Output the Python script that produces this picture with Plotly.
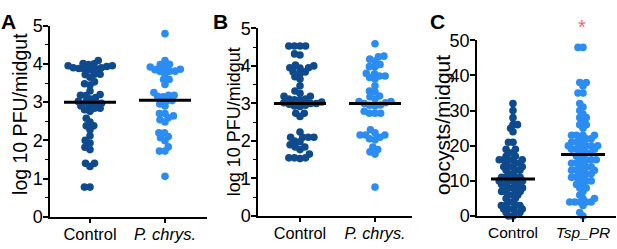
import math
import plotly.graph_objects as go

# ---------------- data ----------------
a_control = [3.95, 3.93, 3.90, 3.88, 3.86, 3.85, 4.09, 4.01, 3.86, 3.90, 3.95, 3.98, 4.00,
             3.73, 3.65, 3.73, 3.72, 3.48, 3.45, 3.53,
             3.20, 3.17, 3.08, 3.12, 3.18, 3.29,
             2.97, 2.90, 2.84, 2.76, 2.80, 2.84, 2.90, 2.97, 3.00, 3.02,
             2.58, 2.48, 2.38, 2.28, 2.38, 2.12, 1.93, 2.00, 1.76, 1.82,
             1.40, 1.32, 1.40, 0.78, 0.78]
a_pchrys = [4.79, 4.09, 3.98, 3.91, 3.86, 3.81, 3.80, 3.81, 3.85, 3.92, 3.99,
            3.59, 3.46, 3.59, 3.73, 3.15, 3.18, 3.18, 3.25, 3.14,
            3.03, 2.90, 2.95, 3.04, 2.70, 2.64, 2.54, 2.48, 2.59, 2.70,
            2.20, 2.10, 1.99, 2.07, 2.20, 1.72, 1.72, 1.83, 1.06]
b_control = [4.53, 4.53, 4.53, 4.53, 4.29, 4.32, 3.84, 3.94, 4.00, 3.95, 3.95, 3.84, 4.02,
             3.79, 3.65, 3.71, 3.47, 3.33, 3.19, 3.27, 3.19, 3.12, 3.10, 3.10, 3.12,
             3.00, 2.98, 3.02, 3.00, 2.95, 2.92, 3.04, 2.93, 2.74, 2.65, 2.74,
             2.24, 2.10, 2.10, 2.10, 2.10, 2.00, 1.90, 1.84, 1.77, 1.84, 1.98,
             1.65, 1.55, 1.53, 1.55, 1.55]
b_pchrys = [4.59, 4.24, 4.13, 4.26, 4.04, 4.18, 3.79, 3.73, 3.98, 3.98, 3.65, 3.69, 3.73, 3.80,
            3.47, 3.20, 3.33, 3.31, 3.12, 3.18, 3.00, 3.02, 3.05, 3.05, 2.96, 2.93, 2.95,
            2.79, 2.74, 2.74, 2.74, 2.30, 2.22, 2.16, 2.10, 2.03, 2.06, 2.16, 2.16,
            1.84, 1.71, 1.65, 1.77, 0.77]
c_control = [0, 0, 1, 1, 1, 2, 2, 2, 2, 3, 3, 3, 3, 4, 4, 5, 5, 6, 6, 6, 7, 7, 7, 7,
             8, 8, 8, 8, 9, 9, 9, 9, 10, 10, 10, 10, 10, 11, 11, 11, 11, 12, 12,
             13, 13, 13, 14, 14, 14, 14, 15, 15, 15, 16, 16, 16, 16, 16, 17, 17,
             18, 18, 19, 19, 21, 21, 24, 25, 26, 26, 28, 30, 32]
c_tsp = [0, 1, 3, 4, 4, 4, 4, 4, 5, 5, 6, 7, 8, 8, 9, 9, 10, 10, 10, 11, 11, 11,
         12, 12, 12, 13, 13, 13, 13, 14, 14, 14, 15, 15, 15, 16, 16, 16, 16, 17, 17,
         18, 18, 18, 19, 19, 19, 19, 20, 20, 20, 20, 20, 21, 21, 21, 22, 22, 22,
         23, 23, 23, 23, 25, 26, 26, 27, 28, 28, 29, 30, 31, 32, 35, 35, 37, 38, 38, 48, 48]

lines_a = [3.0, 3.05]
lines_b = [3.0, 3.0]
lines_c = [10.5, 17.5]

cats_ab = ["Control", "<i>P. chrys.</i>"]
cats_c = ["Control", "<i>Tsp_PR</i>"]

DARK = "#0e4a8c"
LIGHT = "#2b8df2"
FONT = "Liberation Sans, Arial, sans-serif"

W, H = 617, 249


def swarm(values, px_per_unit, d):
    n = len(values)
    order = sorted(range(n), key=lambda i: values[i])
    placed = []
    offs = [0.0] * n
    for i in order:
        y = values[i] * px_per_unit
        intervals = []
        cands = [0.0]
        for (yj, xj) in placed:
            dy = abs(y - yj)
            if dy < d:
                dx = math.sqrt(d * d - dy * dy)
                intervals.append((xj - dx, xj + dx))
                cands += [xj - dx, xj + dx]
        cands.sort(key=lambda c: (abs(c), c))
        x = 0.0
        for c in cands:
            if all(not (a + 1e-6 < c < b - 1e-6) for a, b in intervals):
                x = c
                break
        placed.append((y, x))
        offs[i] = x
    return offs


panels = [
    dict(vals=[a_control, a_pchrys], lines=lines_a, cats=cats_ab, ax0=50, ax1=207, top=17, bot=225,
         c0=90, sp=75, ymax=5, dtick=1, minor=True, tfs=18, cfs=16.5, d=[5.6, 5.6]),
    dict(vals=[b_control, b_pchrys], lines=lines_b, cats=cats_ab, ax0=258, ax1=412, top=20, bot=224,
         c0=300, sp=75, ymax=5, dtick=1, minor=True, tfs=18, cfs=16.3, d=[5.6, 5.6]),
    dict(vals=[c_control, c_tsp], lines=lines_c, cats=cats_c, ax0=477, ax1=616, top=33, bot=224,
         c0=513, sp=70, ymax=50, dtick=10, minor=False, tfs=18, cfs=15.5, d=[4.5, 5.0]),
]

fig = go.Figure()
layout = {}
for k, p in enumerate(panels):
    idx = "" if k == 0 else str(k + 1)
    xa, ya = "x" + idx, "y" + idx
    ppu = (p["bot"] - p["top"]) / p["ymax"]
    for g, vals in enumerate(p["vals"]):
        offs = swarm(vals, ppu, p["d"][g])
        xs = [g + o / p["sp"] for o in offs]
        fig.add_trace(go.Scatter(x=xs, y=vals, mode="markers", xaxis=xa, yaxis=ya, cliponaxis=False,
                                 marker=dict(size=7.6, color=DARK if g == 0 else LIGHT, line=dict(width=0)),
                                 showlegend=False, hoverinfo="skip"))
    hw = 26 / p["sp"] if k < 2 else 22 / p["sp"]
    for g, m in enumerate(p["lines"]):
        fig.add_trace(go.Scatter(x=[g - hw, g + hw], y=[m, m], mode="lines", xaxis=xa, yaxis=ya,
                                 cliponaxis=False,
                                 line=dict(color="black", width=3), showlegend=False, hoverinfo="skip"))
    xr = [(p["ax0"] - p["c0"]) / p["sp"], (p["ax1"] - p["c0"]) / p["sp"]]
    layout["xaxis" + idx] = dict(domain=[p["ax0"] / W, p["ax1"] / W], range=xr, anchor=ya,
                                 tickvals=[0, 1], ticktext=p["cats"], showline=True, linecolor="black",
                                 linewidth=1.5, ticks="outside", ticklen=4, tickwidth=1.5, tickcolor="black",
                                 showgrid=False, zeroline=False, fixedrange=True, ticklabelstandoff=-2,
                                 tickfont=dict(family=FONT, size=p["cfs"], color="black"))
    ydict = dict(domain=[1 - p["bot"] / H, 1 - p["top"] / H], range=[0, p["ymax"]], anchor=xa,
                 tick0=0, dtick=p["dtick"], showline=True, linecolor="black", linewidth=1.5,
                 ticks="outside", ticklen=5, tickwidth=1.5, tickcolor="black",
                 showgrid=False, zeroline=False, fixedrange=True, ticklabelstandoff=-3,
                 tickfont=dict(family=FONT, size=p["tfs"], color="black"))
    if p["minor"]:
        ydict["minor"] = dict(dtick=0.5, ticks="outside", ticklen=3, tickwidth=1.2, tickcolor="black",
                              showgrid=False)
    layout["yaxis" + idx] = ydict

annotations = [
    dict(text="<b>A</b>", x=8 / W, y=1 - 12 / H, font=dict(size=21)),
    dict(text="<b>B</b>", x=220 / W, y=1 - 12 / H, font=dict(size=21)),
    dict(text="<b>C</b>", x=437 / W, y=1 - 12 / H, font=dict(size=21)),
    dict(text="log 10 PFU/midgut", x=20 / W, y=1 - 113 / H, textangle=-90, font=dict(size=19.5)),
    dict(text="log 10 PFU/midgut", x=234 / W, y=1 - 122 / H, textangle=-90, font=dict(size=18)),
    dict(text="oocysts/midgut", x=443 / W, y=1 - 125 / H, textangle=-90, font=dict(size=21)),
    dict(text="*", x=582 / W, y=1 - 19 / H, font=dict(size=20, color="#f26b6b")),
]
for a in annotations:
    a.update(xref="paper", yref="paper", showarrow=False, xanchor="center", yanchor="middle")
    a["font"].setdefault("color", "black")
    a["font"]["family"] = FONT

fig.update_layout(width=W, height=H, margin=dict(l=0, r=0, t=0, b=0), paper_bgcolor="white",
                  plot_bgcolor="white", annotations=annotations, **layout)
fig.write_html("out.html", config={"displayModeBar": False},
               post_script="document.body.style.margin='0px';document.body.style.overflow='hidden';")
